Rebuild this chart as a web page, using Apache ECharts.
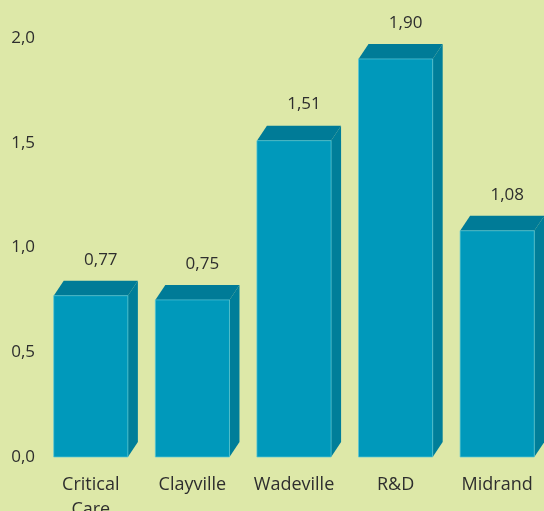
<!DOCTYPE html>
<html><head><meta charset="utf-8">
<script src="https://cdn.jsdelivr.net/npm/echarts@6/dist/echarts.min.js"></script>
<style>html,body{margin:0;padding:0;background:#dde8a8;}#c{width:544px;height:511px;}</style>
</head><body><div id="c"></div>
<script>
const categories = ['Critical Care', 'Clayville', 'Wadeville', 'R&D', 'Midrand'];
const values = [0.77, 0.75, 1.51, 1.90, 1.08];
const yTicks = [0, 0.5, 1.0, 1.5, 2.0];

const FRONT = '#0099bb', TOP = '#007b97', SIDE = '#007e99';
const fmt = (v, d) => v.toFixed(d).replace('.', ',');
const chart = echarts.init(document.getElementById('c'));
chart.setOption({
  backgroundColor: '#dde8a8',
  animation: false,
  grid: { left: 40, right: -4, top: 38, bottom: 54, containLabel: false, outerBoundsMode: 'none' },
  xAxis: {
    type: 'category', data: categories,
    axisLine: { show: false }, axisTick: { show: false },
    axisLabel: {
      interval: 0, margin: 15, lineHeight: 25,
      color: '#2e2e2e', fontSize: 18, fontFamily: 'Open Sans',
      formatter: v => v.replace(' ', '\n')
    }
  },
  yAxis: {
    type: 'value', min: yTicks[0], max: yTicks[yTicks.length - 1], interval: 0.5,
    axisLine: { show: false }, axisTick: { show: false }, splitLine: { show: false },
    axisLabel: {
      margin: 5, color: '#2e2e2e', fontSize: 17, fontFamily: 'Open Sans',
      padding: [0, 0, 8, 0], verticalAlign: 'middle',
      formatter: v => fmt(v, 1)
    }
  },
  series: [{
    type: 'custom',
    data: values.map((v, i) => [i, v]),
    encode: { x: 0, y: 1 },
    renderItem(params, api) {
      const idx = api.value(0), v = api.value(1);
      const base = api.coord([idx, 0]);
      const top = api.coord([idx, v]);
      const bw = api.size([1, 0])[0] * 0.73;
      const x0 = base[0] - bw / 2, x1 = base[0] + bw / 2, y0 = base[1], y1 = top[1];
      const dx = 10, dy = -15;
      return { type: 'group', children: [
        { type: 'polygon', shape: { points: [[x1, y0], [x1 + dx, y0 + dy], [x1 + dx, y1 + dy], [x1, y1]] }, style: { fill: SIDE } },
        { type: 'polygon', shape: { points: [[x0, y1], [x0 + dx, y1 + dy], [x1 + dx, y1 + dy], [x1, y1]] }, style: { fill: TOP } },
        { type: 'rect', shape: { x: x0, y: y1, width: bw, height: y0 - y1 }, style: { fill: FRONT, stroke: 'rgba(90,200,215,0.7)', lineWidth: 1 } },
        { type: 'text', x: base[0] + dx, y: y1 + dy - 21,
          style: { text: fmt(v, 2), fill: '#2e2e2e', fontSize: 17, fontFamily: 'Open Sans',
                   textAlign: 'center', textVerticalAlign: 'middle', align: 'center', verticalAlign: 'middle' } }
      ]};
    }
  }]
});
</script></body></html>
